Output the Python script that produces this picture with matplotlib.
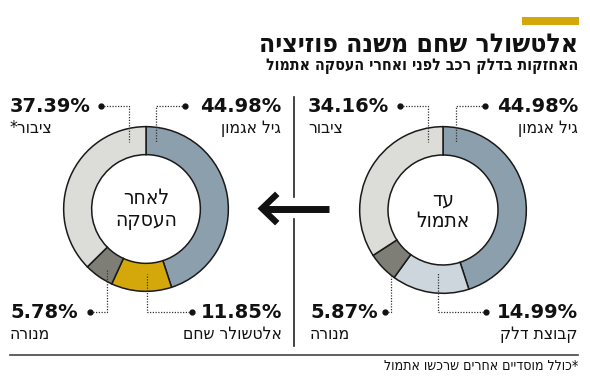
import matplotlib
matplotlib.use("Agg")
import matplotlib.pyplot as plt

plt.rcParams['font.family'] = ['DejaVu Sans']

def heb(s):
    # matplotlib has no bidi support, so flip the logical string
    return s[::-1]

title = "אלטשולר שחם משנה פוזיציה"
subtitle = "האחזקות בדלק רכב לפני ואחרי העסקה אתמול"
footnote = "*כולל מוסדיים אחרים שרכשו אתמול"

# before the deal (right donut)
before_names = ["גיל אגמון", "קבוצת דלק", "מנורה", "ציבור"]
before_vals = [44.98, 14.99, 5.87, 34.16]
before_colors = ["#8c9fac", "#cdd6dc", "#7f7e76", "#dcdcd8"]

# after the deal (left donut)
after_names = ["גיל אגמון", "אלטשולר שחם", "מנורה", "ציבור*"]
after_vals = [44.98, 11.85, 5.78, 37.39]
after_colors = ["#8c9fac", "#d4a80a", "#7f7e76", "#dcdcd8"]

W, H = 590, 377
fig = plt.figure(figsize=(W / 100, H / 100), dpi=100)
cond = dict(fontstretch="condensed", color="#111")


def donut(cx, cy, r, vals, colors, center_text):
    a = fig.add_axes([(cx - r) / W, 1 - (cy + r) / H, 2 * r / W, 2 * r / H])
    a.pie(vals, colors=colors, startangle=90, counterclock=False, radius=1,
          wedgeprops=dict(width=0.34, edgecolor="#1a1a1a", linewidth=1.1))
    a.set_xlim(-1.02, 1.02)
    a.set_ylim(-1.02, 1.02)
    a.text(0, 0, center_text, ha="center", va="center", fontsize=15,
           linespacing=1.1, **cond)


donut(443, 210, 85, before_vals, before_colors, heb("עד") + "\n" + heb("אתמול"))
donut(146, 209, 84, after_vals, after_colors, heb("לאחר") + "\n" + heb("העסקה"))

ax = fig.add_axes([0, 0, 1, 1])
ax.set_xlim(0, W)
ax.set_ylim(H, 0)
ax.axis("off")

# header
ax.add_patch(plt.Rectangle((522, 17), 57, 8, color="#d4a80a", lw=0))
ax.text(578, 45, heb(title), ha="right", va="center", fontsize=19,
        fontweight="bold", **cond)
ax.text(578, 66, heb(subtitle), ha="right", va="center", fontsize=11.4,
        fontweight="bold", **cond)


def label(val, name, tx, ty, align, dot_x, bend_x, end_y):
    ax.text(tx, ty, f"{val:.2f}%", ha=align, va="center", fontsize=14,
            fontweight="bold", color="#111")
    ax.text(tx, ty + 22, heb(name), ha=align, va="center", fontsize=12.5,
            **cond)
    ax.plot([dot_x, bend_x, bend_x], [ty, ty, end_y], ls=(0, (1, 1.2)),
            lw=0.9, color="#333")
    ax.plot(dot_x, ty, "o", ms=3.5, color="#111")


# right donut labels
label(before_vals[0], before_names[0], 578, 106, "right", 485, 456, 142)
label(before_vals[3], before_names[3], 308, 106, "left", 400, 428, 142)
label(before_vals[1], before_names[1], 578, 312, "right", 486, 438, 273)
label(before_vals[2], before_names[2], 310, 312, "left", 385, 391, 276)

# left donut labels
label(after_vals[0], after_names[0], 281, 106, "right", 185, 156, 142)
label(after_vals[3], after_names[3], 10, 106, "left", 101, 129, 142)
label(after_vals[1], after_names[1], 282, 312, "right", 192, 147, 274)
label(after_vals[2], after_names[2], 10, 312, "left", 90, 107, 270)

# divider and arrow
ax.plot([294, 294], [97, 197], color="#222", lw=1.2)
ax.plot([294, 294], [219, 346], color="#222", lw=1.2)
ax.plot([264, 329], [208.5, 208.5], color="#111", lw=5, solid_capstyle="butt")
ax.plot([275, 262, 275], [196, 208.5, 221], color="#111", lw=4.5,
        solid_joinstyle="miter")

# footer
ax.plot([10, 578], [355, 355], color="#444", lw=1.2)
ax.text(578, 366, heb(footnote), ha="right", va="center", fontsize=10.2,
        **cond)

fig.savefig("out.png", dpi=100)
